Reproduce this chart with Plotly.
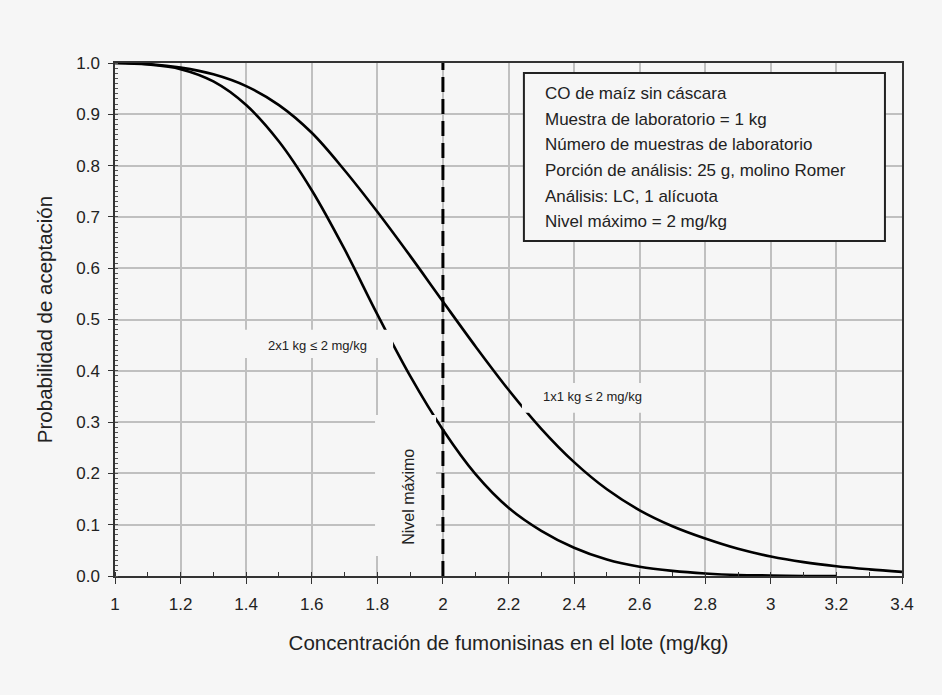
import plotly.graph_objects as go

# ---- data ----
conc = [1.0, 1.1, 1.2, 1.3, 1.4, 1.5, 1.6, 1.7, 1.8, 1.9, 2.0, 2.1, 2.2,
        2.3, 2.4, 2.5, 2.6, 2.7, 2.8, 2.9, 3.0, 3.1, 3.2, 3.3, 3.4]
p_1x1 = [1.000, 0.998, 0.991, 0.978, 0.955, 0.918, 0.864, 0.791, 0.710, 0.624,
         0.535, 0.447, 0.363, 0.287, 0.222, 0.169, 0.128, 0.097, 0.073, 0.053,
         0.038, 0.027, 0.019, 0.013, 0.008]
p_2x1 = [1.000, 0.997, 0.988, 0.964, 0.918, 0.847, 0.752, 0.637, 0.510, 0.390,
         0.285, 0.198, 0.133, 0.088, 0.055, 0.032, 0.018, 0.010, 0.005, 0.002,
         0.001, 0.000, 0.000]
max_level = 2.0

x_ticks = [1, 1.2, 1.4, 1.6, 1.8, 2, 2.2, 2.4, 2.6, 2.8, 3, 3.2, 3.4]
x_ticklabels = ["1", "1.2", "1.4", "1.6", "1.8", "2", "2.2", "2.4", "2.6", "2.8", "3", "3.2", "3.4"]
y_ticks = [0.0, 0.1, 0.2, 0.3, 0.4, 0.5, 0.6, 0.7, 0.8, 0.9, 1.0]
y_ticklabels = ["0.0", "0.1", "0.2", "0.3", "0.4", "0.5", "0.6", "0.7", "0.8", "0.9", "1.0"]

info_lines = [
    "CO de maíz sin cáscara",
    "Muestra de laboratorio = 1 kg",
    "Número de muestras de laboratorio",
    "Porción de análisis: 25 g, molino Romer",
    "Análisis: LC, 1 alícuota",
    "Nivel máximo = 2 mg/kg",
]
label_1x1 = "1x1 kg ≤ 2 mg/kg"
label_2x1 = "2x1 kg ≤ 2 mg/kg"
label_max = "Nivel máximo"

BG = "#f6f6f6"
FONT = "Arial, Liberation Sans, sans-serif"

fig = go.Figure()
fig.add_trace(go.Scatter(x=conc, y=p_1x1, mode="lines",
                         line=dict(color="black", width=2.6, shape="spline", smoothing=1.0),
                         showlegend=False, hoverinfo="skip"))
fig.add_trace(go.Scatter(x=conc[:len(p_2x1)], y=p_2x1, mode="lines",
                         line=dict(color="black", width=2.6, shape="spline", smoothing=1.0),
                         showlegend=False, hoverinfo="skip"))

shapes = []
# masks behind the text labels (hide grid and curves like the original)
for (x0, x1, y0, y1) in [(1.381, 1.848, 0.425, 0.480),
                         (2.241, 2.637, 0.318, 0.376),
                         (1.793, 1.979, 0.039, 0.314)]:
    shapes.append(dict(type="rect", xref="x", yref="y", x0=x0, x1=x1, y0=y0, y1=y1,
                       fillcolor=BG, line=dict(width=0), layer="above"))
# info box
shapes.append(dict(type="rect", xref="x", yref="y", x0=2.247, x1=3.348, y0=0.653, y1=0.9805,
                   fillcolor=BG, line=dict(color="#222", width=2), layer="above"))
# maximum level dashed line
shapes.append(dict(type="line", xref="x", yref="y", x0=max_level, x1=max_level, y0=0, y1=1,
                   line=dict(color="black", width=3, dash="15px,7px"), layer="above"))

annotations = []
info_y = [0.9415, 0.8908, 0.8421, 0.7914, 0.7407, 0.6920]
for txt, yy in zip(info_lines, info_y):
    annotations.append(dict(x=2.305, y=yy, xref="x", yref="y", text=txt, showarrow=False,
                            xanchor="left", yanchor="middle",
                            font=dict(family=FONT, size=17, color="#222")))
annotations.append(dict(x=1.616, y=0.450, xref="x", yref="y", text=label_2x1, showarrow=False,
                        font=dict(family=FONT, size=13, color="#222")))
annotations.append(dict(x=2.457, y=0.349, xref="x", yref="y", text=label_1x1, showarrow=False,
                        font=dict(family=FONT, size=13, color="#222")))
annotations.append(dict(x=1.893, y=0.154, xref="x", yref="y", text=label_max, showarrow=False,
                        textangle=-90, font=dict(family=FONT, size=16, color="#222")))

fig.update_layout(
    width=942, height=695,
    margin=dict(l=115, r=40, t=63, b=119),
    paper_bgcolor=BG, plot_bgcolor=BG,
    font=dict(family=FONT, color="#222"),
    shapes=shapes, annotations=annotations,
    xaxis=dict(range=[1, 3.4], tickvals=x_ticks, ticktext=x_ticklabels,
               showgrid=True, gridcolor="#c0c0c0", gridwidth=1.5, zeroline=False,
               showline=True, linecolor="#333", linewidth=1.5, mirror=True,
               ticks="outside", ticklen=6, tickcolor="#333", tickwidth=1,
               ticklabelstandoff=6,
               minor=dict(ticks="inside", dtick=0.1, ticklen=4, tickcolor="#333", showgrid=False),
               tickfont=dict(family=FONT, size=17, color="#222"),
               title=dict(text="Concentración de fumonisinas en el lote (mg/kg)",
                          font=dict(family=FONT, size=20.5, color="#222"), standoff=22)),
    yaxis=dict(range=[0, 1], tickvals=y_ticks, ticktext=y_ticklabels,
               showgrid=True, gridcolor="#c0c0c0", gridwidth=1.5, zeroline=False,
               showline=True, linecolor="#333", linewidth=1.5, mirror=True,
               ticks="outside", ticklen=5, tickcolor="#333", tickwidth=1,
               ticklabelstandoff=5,
               minor=dict(ticks="inside", dtick=0.01, ticklen=3, tickcolor="#555", showgrid=False),
               tickfont=dict(family=FONT, size=17, color="#222"),
               title=dict(text="Probabilidad de aceptación",
                          font=dict(family=FONT, size=20.5, color="#222"), standoff=18)),
)

fig.write_html("out.html")
